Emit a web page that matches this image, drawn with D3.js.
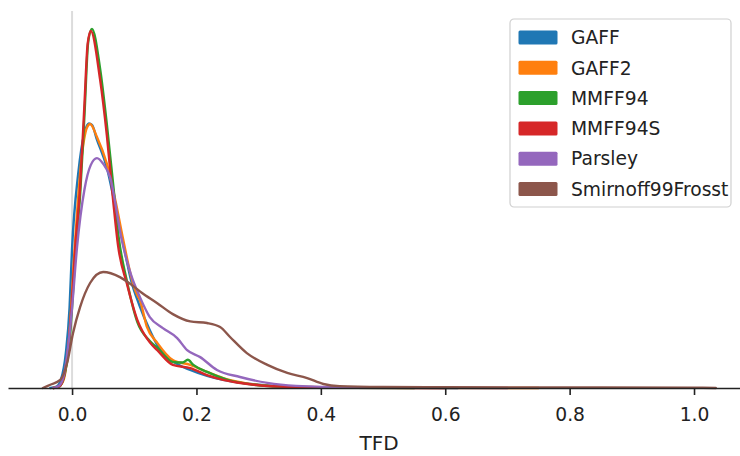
<!DOCTYPE html>
<html>
<head>
<meta charset="utf-8">
<script src="https://cdn.jsdelivr.net/npm/d3@7"></script>
<style>
  html, body { margin: 0; padding: 0; background: #fff; }
  svg { display: block; font-family: "DejaVu Sans", sans-serif; }
</style>
</head>
<body>
<svg id="chart" width="740" height="456"></svg>
<script>
// ---- data (TFD kernel density estimates) ----
const seriesNames = ["GAFF", "GAFF2", "MMFF94", "MMFF94S", "Parsley", "Smirnoff99Frosst"];
const seriesColors = ["#1f77b4", "#ff7f0e", "#2ca02c", "#d62728", "#9467bd", "#8c564b"];
const xTicks = [0.0, 0.2, 0.4, 0.6, 0.8, 1.0];
const xLabel = "TFD";

const gaff = [
  [-0.035, 0], [-0.025, 0.05], [-0.018, 0.3], [-0.01, 1.3], [-0.004, 3.0], [0, 5.2], [0.01, 8.0], [0.02, 9.5], [0.027, 9.85],
  [0.032, 9.8], [0.04, 9.25], [0.056, 8.2], [0.07, 6.7], [0.082, 5.4], [0.095, 4.0], [0.108, 3.1],
  [0.125, 2.15], [0.137, 1.6], [0.162, 1.0], [0.19, 0.67], [0.217, 0.45], [0.243, 0.3],
  [0.27, 0.2], [0.3, 0.12], [0.35, 0.05], [0.45, 0.02], [0.62, 0]
];
const gaff2 = [
  [-0.03, 0], [-0.02, 0.08], [-0.013, 0.35], [-0.005, 1.8], [0.005, 5.5], [0.015, 8.5], [0.024, 9.7], [0.029, 9.83],
  [0.04, 9.35], [0.056, 8.35], [0.07, 6.95], [0.082, 5.55], [0.095, 4.15], [0.105, 3.45], [0.109, 3.28],
  [0.12, 2.3], [0.137, 1.68], [0.162, 1.04], [0.19, 0.86], [0.217, 0.6], [0.243, 0.37],
  [0.27, 0.22], [0.323, 0.07], [0.4, 0.03], [0.5, 0.01], [0.75, 0]
];
const mmff94 = [
  [-0.03, 0], [-0.02, 0.06], [-0.012, 0.5], [-0.005, 1.5], [0, 3.0], [0.005, 4.9], [0.013, 7.2], [0.02, 10.2], [0.026, 12.9],
  [0.032, 13.37], [0.045, 11.9], [0.056, 9.8], [0.066, 7.6], [0.075, 5.6], [0.088, 4.0],
  [0.105, 2.45], [0.125, 1.75], [0.137, 1.5], [0.162, 0.97], [0.178, 0.95], [0.186, 1.05],
  [0.195, 0.86], [0.217, 0.6], [0.25, 0.3], [0.3, 0.1], [0.35, 0.04], [0.45, 0.01], [0.55, 0]
];
const mmff94s = [
  [-0.03, 0], [-0.02, 0.07], [-0.012, 0.55], [-0.006, 1.5], [0, 3.3], [0.005, 5.2], [0.013, 7.5], [0.02, 10.6], [0.025, 12.8],
  [0.03, 13.3], [0.045, 11.5], [0.056, 9.4], [0.066, 7.0], [0.074, 5.3], [0.088, 3.9],
  [0.105, 2.53], [0.125, 1.7], [0.137, 1.41], [0.162, 0.86], [0.19, 0.74], [0.217, 0.48],
  [0.243, 0.3], [0.297, 0.11], [0.35, 0.04], [0.45, 0.01], [0.6, 0]
];
const parsley = [
  [-0.03, 0], [-0.02, 0.1], [-0.012, 0.6], [-0.005, 1.8], [0, 3.0], [0.008, 5.25], [0.02, 7.4], [0.03, 8.3], [0.04, 8.56],
  [0.05, 8.35], [0.061, 7.86], [0.08, 5.5], [0.095, 4.2], [0.109, 3.39], [0.125, 2.64],
  [0.146, 2.23], [0.169, 1.86], [0.185, 1.41], [0.206, 1.15], [0.233, 0.67], [0.27, 0.41],
  [0.314, 0.19], [0.36, 0.08], [0.45, 0.02], [0.7, 0]
];
const smirnoff = [
  [-0.047, 0], [-0.035, 0.12], [-0.019, 0.3], [-0.008, 0.93], [0.0016, 2.05], [0.013, 3.02], [0.029, 3.91],
  [0.05, 4.32], [0.077, 4.13], [0.098, 3.8], [0.112, 3.55], [0.137, 3.16], [0.162, 2.75],
  [0.19, 2.48], [0.217, 2.42], [0.238, 2.27], [0.254, 1.9], [0.281, 1.3], [0.314, 0.86],
  [0.346, 0.56], [0.378, 0.37], [0.404, 0.15], [0.43, 0.07], [0.5, 0.04], [0.6, 0.03],
  [0.8, 0.02], [1.0, 0.01], [1.035, 0]
];
const seriesValues = [gaff, gaff2, mmff94, mmff94s, parsley, smirnoff];

// ---- layout ----
const svg = d3.select("#chart");
const x = d3.scaleLinear().domain([-0.103, 1.09]).range([8, 750]);
const y = d3.scaleLinear().domain([0, 14.04]).range([388, 11]);

// vertical reference line at x = 0
svg.append("line")
  .attr("x1", x(0)).attr("x2", x(0))
  .attr("y1", y.range()[1]).attr("y2", y(0))
  .attr("stroke", "#dcdcdc").attr("stroke-width", 2);

const line = d3.line()
  .x(d => x(d[0]))
  .y(d => y(d[1]))
  .curve(d3.curveMonotoneX);

seriesValues.forEach((vals, i) => {
  svg.append("path")
    .datum(vals)
    .attr("d", line)
    .attr("fill", "none")
    .attr("stroke", seriesColors[i])
    .attr("stroke-width", 2.4)
    .attr("stroke-linejoin", "round")
    .attr("stroke-linecap", "round");
});

// x axis
const xAxis = d3.axisBottom(x)
  .tickValues(xTicks)
  .tickFormat(d3.format(".1f"))
  .tickSize(7)
  .tickPadding(13)
  .tickSizeOuter(0);
const gx = svg.append("g")
  .attr("transform", `translate(0,${y(0)})`)
  .call(xAxis);
gx.select(".domain").attr("stroke", "#222").attr("stroke-width", 1.6);
gx.selectAll(".tick line").attr("stroke", "#222").attr("stroke-width", 1.6);
gx.selectAll(".tick text")
  .attr("fill", "#222")
  .style("font-size", "18.7px")
  .style("font-family", "DejaVu Sans, sans-serif");

svg.append("text")
  .attr("x", (x.range()[0] + x.range()[1]) / 2)
  .attr("y", 450)
  .attr("text-anchor", "middle")
  .attr("fill", "#222")
  .style("font-size", "20px")
  .text(xLabel);

// legend
const lg = svg.append("g").attr("transform", "translate(510,19)");
lg.append("rect")
  .attr("x", 0).attr("y", 0)
  .attr("width", 221).attr("height", 188)
  .attr("rx", 4)
  .attr("fill", "#fff").attr("fill-opacity", 0.85)
  .attr("stroke", "#d0d0d0").attr("stroke-width", 1.2);
seriesNames.forEach((name, i) => {
  const cy = 18.5 + i * 30.3;
  lg.append("rect")
    .attr("x", 8.5).attr("y", cy - 7)
    .attr("width", 39).attr("height", 14)
    .attr("rx", 1.5)
    .attr("fill", seriesColors[i]);
  lg.append("text")
    .attr("x", 61).attr("y", cy)
    .attr("dy", "0.36em")
    .attr("fill", "#222")
    .style("font-size", "18.7px")
    .text(name);
});
</script>
</body>
</html>
